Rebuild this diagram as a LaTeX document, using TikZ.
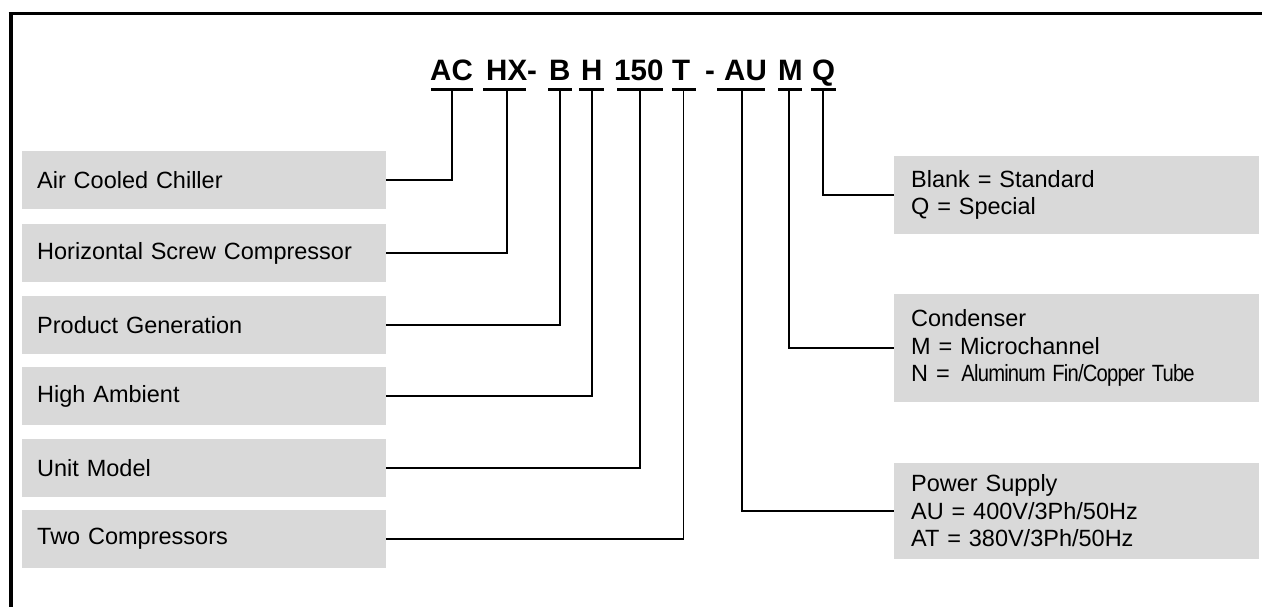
\documentclass[tikz,border=0pt]{standalone}
\usepackage{fontspec}
\usepackage{graphicx}
\setmainfont{Liberation Sans}
\definecolor{boxgray}{RGB}{217,217,217}
\begin{document}
\begin{tikzpicture}[x=1pt,y=-1pt,
  lbox/.style={fill=boxgray, minimum height=58pt, text width=334pt, inner xsep=15pt, inner ysep=0pt, align=left, font=\fontsize{23.5}{27}\selectfont, anchor=west},
  rbox/.style={fill=boxgray, text width=331pt, inner xsep=17pt, inner ysep=0pt, align=left, font=\fontsize{23.5}{27.5}\selectfont, anchor=west},
  code/.style={font=\fontsize{29.5}{30}\selectfont\bfseries, anchor=base west, inner sep=0pt},
  uline/.style={line width=3.5pt},
  conn/.style={line width=1.8pt},
  frame/.style={line width=4pt}]
\useasboundingbox (0,0) rectangle (1262,607);
% frame
\draw[frame] (10.5,607) -- (10.5,13.3);
\draw[line width=3.4pt] (8.5,13.3) -- (1262,13.3);
% code parts
\node[code] (cAC) at (430,80.7) {AC};
\node[code] (cHX) at (486,80.7) {HX-};
\node[code] (cB) at (549,80.7) {B};
\node[code] (cH) at (581,80.7) {H};
\node[code] (c150) at (614,80.7) {150};
\node[code] (cT) at (672,80.7) {T};
\node[code] (cdash) at (705,80.7) {-};
\node[code] (cAU) at (724,80.7) {AU};
\node[code] (cM) at (778,80.7) {M};
\node[code] (cQ) at (812,80.7) {Q};
% underlines
\foreach \n/\l/\r/\c in {AC/431/473/452, HX/483/526/507, B/548/572/560, H/579/604/592, 150/617/663/640, T/672/696/683.5, AU/717/765/742, M/778/802/789, Q/811/836/823}{
  \draw[uline] (\l,89.3) -- (\r,89.3);
  \coordinate (u\n) at (\c,89.3);
}
% left boxes
\node[lbox] (l1) at (22,180) {Air Cooled Chiller};
\node[lbox] (l2) at (22,253) {Horizontal Screw Compressor};
\node[lbox] (l3) at (22,325) {Product Generation};
\node[lbox] (l4) at (22,396) {High Ambient};
\node[lbox] (l5) at (22,468) {Unit Model};
\node[lbox] (l6) at (22,539) {Two Compressors};
% right boxes
\node[rbox, minimum height=78pt] (rQ) at (894,195) {Blank = Standard\\Q = Special};
\node[rbox, minimum height=108pt] (rM) at (894,348) {Condenser\\M = Microchannel\\N = \,\scalebox{0.86}[1]{\addfontfeature{LetterSpace=-4}Aluminum Fin/Copper Tube}};
\node[rbox, minimum height=96pt] (rAU) at (894,511) {Power Supply\\AU = 400V/3Ph/50Hz\\AT = 380V/3Ph/50Hz};
% connectors
\draw[conn] (uAC) |- (l1.east);
\draw[conn] (uHX) |- (l2.east);
\draw[conn] (uB) |- (l3.east);
\draw[conn] (uH) |- (l4.east);
\draw[conn] (u150) |- (l5.east);
\draw[conn] (uT) |- (l6.east);
\draw[conn] (uQ) |- (rQ.west);
\draw[conn] (uM) |- (rM.west);
\draw[conn] (uAU) |- (rAU.west);
\end{tikzpicture}
\end{document}
